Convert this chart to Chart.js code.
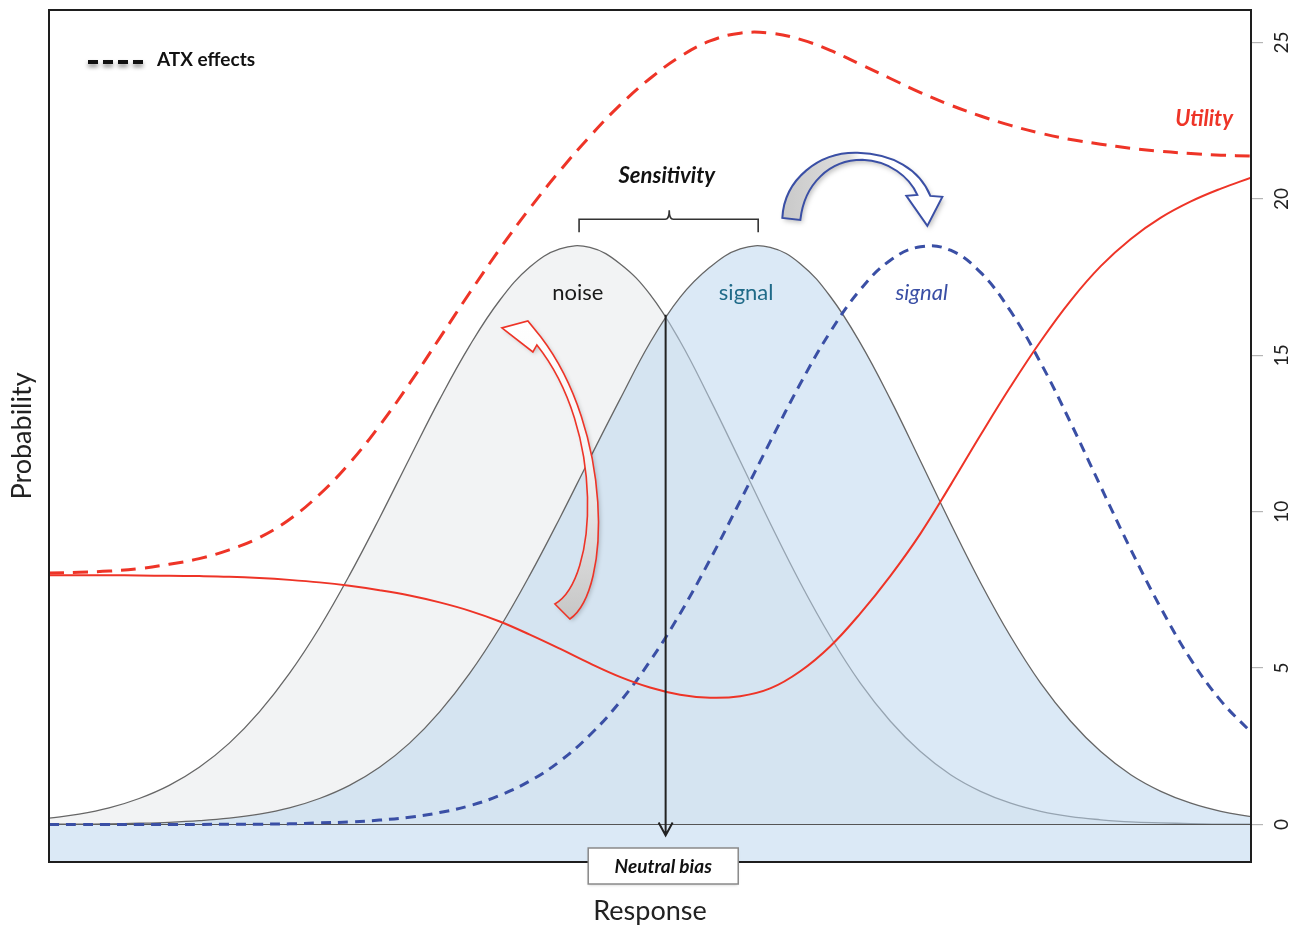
<!DOCTYPE html>
<html>
<head>
<meta charset="utf-8">
<title>Signal detection: noise, signal and utility</title>
<script src="https://cdn.jsdelivr.net/npm/chart.js@4.4.1/dist/chart.umd.min.js"></script>
<style>
  html, body { margin: 0; padding: 0; background: #fff; }
  canvas { display: block; }
</style>
</head>
<body>
<canvas id="sdtChart" width="1301" height="927"></canvas>
<script>
// response axis (arbitrary units, no tick labels)
const response = [0, 2.5, 5, 7.5, 10, 12.5, 15, 17.5, 20, 22.5, 25, 27.5, 30, 32.5, 35, 37.5, 40,
  42.5, 45, 47.5, 50, 52.5, 55, 57.5, 60, 62.5, 65, 67.5, 70, 72.5, 75, 77.5, 80, 82.5, 85, 87.5,
  90, 92.5, 95, 97.5, 100];

const noise = [0.20, 0.33, 0.53, 0.83, 1.25, 1.83, 2.60, 3.60, 4.83, 6.29, 7.97, 9.80, 11.71, 13.59,
  15.31, 16.76, 17.82, 18.40, 18.45, 17.93, 16.95, 15.45, 13.59, 11.62, 9.63, 7.73, 6.01, 4.52, 3.30,
  2.33, 1.59, 1.06, 0.68, 0.42, 0.25, 0.15, 0.08, 0.05, 0.03, 0.01, 0.01];

const signal = [0.01, 0.01, 0.02, 0.04, 0.07, 0.12, 0.20, 0.33, 0.53, 0.83, 1.25, 1.83, 2.60, 3.60,
  4.83, 6.29, 7.97, 9.80, 11.71, 13.59, 15.40, 16.85, 17.82, 18.40, 18.45, 17.93, 16.88, 15.39, 13.59,
  11.62, 9.63, 7.73, 6.01, 4.52, 3.30, 2.33, 1.59, 1.06, 0.68, 0.42, 0.25];

// signal distribution under ATX
const atxSignal = [0, 0, 0, 0, 0, 0, 0.01, 0.01, 0.02, 0.05, 0.08, 0.14, 0.23, 0.38, 0.60, 0.93, 1.39,
  2.02, 2.86, 3.92, 5.22, 6.74, 8.47, 10.34, 12.24, 14.09, 15.75, 17.10, 18.04, 18.47, 18.36, 17.65,
  16.41, 14.76, 12.84, 10.80, 8.79, 6.92, 5.27, 3.95, 2.95];

const utility = [7.97, 7.97, 7.97, 7.96, 7.95, 7.94, 7.92, 7.88, 7.82, 7.74, 7.63, 7.49, 7.32, 7.10,
  6.83, 6.49, 6.07, 5.62, 5.15, 4.72, 4.38, 4.15, 4.05, 4.10, 4.35, 4.90, 5.70, 6.75, 7.95, 9.30,
  10.85, 12.45, 14.00, 15.45, 16.75, 17.85, 18.72, 19.40, 19.92, 20.33, 20.68];

const atxUtility = [8.04, 8.06, 8.10, 8.18, 8.32, 8.50, 8.78, 9.17, 9.75, 10.55, 11.55, 12.75, 14.10,
  15.55, 17.00, 18.40, 19.70, 20.90, 22.00, 23.00, 23.85, 24.55, 25.05, 25.30, 25.30, 25.10, 24.75,
  24.30, 23.85, 23.40, 23.00, 22.65, 22.35, 22.10, 21.90, 21.75, 21.62, 21.52, 21.45, 21.40, 21.37];

const yTicks = [0, 5, 10, 15, 20, 25];

const FONT = 'Lato, "DejaVu Sans", sans-serif';
const RED = '#ee3427';
const BLUE = '#3a4fa5';

function pts(values) {
  return response.map((x, i) => ({ x: x, y: values[i] }));
}

// zero line: drawn after the noise fill so the signal fill tints it
const zeroLine = {
  id: 'zeroLine',
  beforeDatasetDraw(chart, args) {
    if (args.index !== 1) return;
    const ctx = chart.ctx;
    const area = chart.chartArea;
    const y0 = Math.round(chart.scales.y.getPixelForValue(0)) + 0.5;
    ctx.save();
    ctx.strokeStyle = '#555';
    ctx.lineWidth = 1.2;
    ctx.beginPath();
    ctx.moveTo(area.left, y0);
    ctx.lineTo(area.right, y0);
    ctx.stroke();
    ctx.restore();
  }
};

// frame, labels, bracket, arrows, legend and bias box
const decorations = {
  id: 'decorations',
  afterDraw(chart) {
    const ctx = chart.ctx;
    const area = chart.chartArea;
    const X = v => chart.scales.x.getPixelForValue(v);
    const Y = v => chart.scales.y.getPixelForValue(v);

    ctx.save();

    // plot frame
    ctx.strokeStyle = '#1e1e1e';
    ctx.lineWidth = 2;
    ctx.strokeRect(area.left, area.top, area.right - area.left, area.bottom - area.top);

    // curve labels
    ctx.textAlign = 'center';
    ctx.textBaseline = 'middle';
    ctx.font = '22px ' + FONT;
    ctx.fillStyle = '#1a1a1a';
    ctx.fillText('noise', X(44.0), Y(17.0));
    ctx.fillStyle = '#1f6a88';
    ctx.fillText('signal', X(58.0), Y(17.0));
    ctx.font = 'italic 22px ' + FONT;
    ctx.fillStyle = BLUE;
    ctx.fillText('signal', X(72.6), Y(17.0));

    ctx.font = 'italic bold 22px ' + FONT;
    ctx.fillStyle = '#111';
    ctx.fillText('Sensitivity', X(51.4), Y(20.75));

    ctx.textAlign = 'right';
    ctx.fillStyle = RED;
    ctx.fillText('Utility', X(98.5), Y(22.55));

    // bracket between the two peaks
    const bl = X(44.1), br = X(59.0), by = Y(19.35), bm = X(51.6);
    ctx.strokeStyle = '#333';
    ctx.lineWidth = 1.6;
    ctx.beginPath();
    ctx.moveTo(bl, by + 13);
    ctx.lineTo(bl, by);
    ctx.lineTo(bm - 4, by);
    ctx.quadraticCurveTo(bm, by, bm, by - 9);
    ctx.quadraticCurveTo(bm, by, bm + 4, by);
    ctx.lineTo(br, by);
    ctx.lineTo(br, by + 13);
    ctx.stroke();

    // criterion arrow from the crossing point down to the axis
    const ax = X(51.3), ay0 = Y(16.3), ay1 = Y(-0.35);
    ctx.strokeStyle = '#222';
    ctx.lineWidth = 2;
    ctx.beginPath();
    ctx.moveTo(ax, ay0);
    ctx.lineTo(ax, ay1);
    ctx.moveTo(ax - 7, ay1 - 13);
    ctx.lineTo(ax, ay1);
    ctx.lineTo(ax + 7, ay1 - 13);
    ctx.stroke();

    // curved blue arrow: signal shifting right
    ctx.save();
    ctx.translate(X(67.0), Y(21.6));
    ctx.beginPath();
    ctx.moveTo(-72, 69);
    ctx.bezierCurveTo(-70, 30, -35, 3, 3, 4);
    ctx.bezierCurveTo(38, 5, 65, 20, 76, 47);
    ctx.lineTo(88, 48);
    ctx.lineTo(73, 77);
    ctx.lineTo(52, 47);
    ctx.lineTo(63, 46);
    ctx.bezierCurveTo(55, 28, 35, 12, 8, 11);
    ctx.bezierCurveTo(-25, 11, -50, 35, -54, 71);
    ctx.closePath();
    let g = ctx.createLinearGradient(-72, 0, 86, 0);
    g.addColorStop(0, '#c9c9c9');
    g.addColorStop(0.42, '#dedede');
    g.addColorStop(0.5, '#ffffff');
    g.addColorStop(1, '#ffffff');
    ctx.shadowColor = 'rgba(0,0,0,0.25)';
    ctx.shadowBlur = 5;
    ctx.shadowOffsetX = 2;
    ctx.shadowOffsetY = 3;
    ctx.fillStyle = g;
    ctx.fill();
    ctx.shadowColor = 'transparent';
    ctx.strokeStyle = BLUE;
    ctx.lineWidth = 2;
    ctx.stroke();
    ctx.restore();

    // curved red arrow: criterion moving toward noise
    ctx.save();
    ctx.translate(X(44.5), Y(9.0));
    ctx.beginPath();
    ctx.moveTo(-29, 61);
    ctx.bezierCurveTo(14, 37, 21, -113, -47, -198);
    ctx.lineTo(-51, -191);
    ctx.lineTo(-82, -215);
    ctx.lineTo(-56, -222);
    ctx.lineTo(-43, -206);
    ctx.bezierCurveTo(28, -113, 28, 47, -14, 76);
    ctx.closePath();
    g = ctx.createLinearGradient(0, -220, 0, 76);
    g.addColorStop(0, '#ffffff');
    g.addColorStop(0.45, '#f4f4f4');
    g.addColorStop(1, '#c6c6c6');
    ctx.shadowColor = 'rgba(0,0,0,0.2)';
    ctx.shadowBlur = 4;
    ctx.shadowOffsetX = 2;
    ctx.shadowOffsetY = 2;
    ctx.fillStyle = g;
    ctx.fill();
    ctx.shadowColor = 'transparent';
    ctx.strokeStyle = RED;
    ctx.lineWidth = 1.6;
    ctx.stroke();
    ctx.restore();

    // legend for the dashed curves
    const lx = area.left + 39, ly = area.top + 52;
    ctx.save();
    ctx.shadowColor = 'rgba(0,0,0,0.45)';
    ctx.shadowBlur = 4;
    ctx.shadowOffsetY = 3;
    ctx.strokeStyle = '#111';
    ctx.lineWidth = 4;
    ctx.setLineDash([10, 5]);
    ctx.beginPath();
    ctx.moveTo(lx, ly);
    ctx.lineTo(lx + 55, ly);
    ctx.stroke();
    ctx.restore();
    ctx.font = 'bold 19px ' + FONT;
    ctx.fillStyle = '#111';
    ctx.textAlign = 'left';
    ctx.fillText('ATX effects', lx + 69, ly - 2);

    // neutral bias box over the bottom edge
    const nx = X(51.1), ny = area.bottom + 4;
    ctx.save();
    ctx.shadowColor = 'rgba(0,0,0,0.2)';
    ctx.shadowBlur = 3;
    ctx.shadowOffsetY = 1;
    ctx.fillStyle = '#fff';
    ctx.fillRect(nx - 75, ny - 18, 150, 36);
    ctx.restore();
    ctx.strokeStyle = '#8a8a8a';
    ctx.lineWidth = 1.5;
    ctx.strokeRect(nx - 75, ny - 18, 150, 36);
    ctx.font = 'italic bold 19px ' + FONT;
    ctx.fillStyle = '#111';
    ctx.textAlign = 'center';
    ctx.fillText('Neutral bias', nx, ny + 1);

    ctx.restore();
  }
};

new Chart(document.getElementById('sdtChart'), {
  type: 'line',
  data: {
    datasets: [
      {
        label: 'noise',
        data: pts(noise),
        borderColor: '#666',
        borderWidth: 1.3,
        backgroundColor: '#f2f3f4',
        fill: 'origin',
        order: 5
      },
      {
        label: 'signal',
        data: pts(signal),
        borderColor: '#666',
        borderWidth: 1.3,
        backgroundColor: 'rgba(190,215,238,0.55)',
        fill: 'start',
        order: 4
      },
      {
        label: 'signal (ATX)',
        data: pts(atxSignal),
        borderColor: BLUE,
        borderWidth: 3,
        borderDash: [10, 7],
        fill: false,
        order: 3
      },
      {
        label: 'Utility',
        data: pts(utility),
        borderColor: RED,
        borderWidth: 2,
        fill: false,
        order: 2
      },
      {
        label: 'Utility (ATX)',
        data: pts(atxUtility),
        borderColor: RED,
        borderWidth: 3,
        borderDash: [15, 9],
        fill: false,
        order: 1
      }
    ]
  },
  options: {
    responsive: false,
    animation: false,
    layout: { padding: { top: 10, left: 0, right: 0, bottom: 0 } },
    elements: {
      point: { radius: 0, hoverRadius: 0 },
      line: { tension: 0.4 }
    },
    plugins: {
      legend: { display: false },
      tooltip: { enabled: false }
    },
    scales: {
      x: {
        type: 'linear',
        min: 0,
        max: 100,
        position: 'bottom',
        ticks: { display: false },
        grid: { display: false },
        border: { display: false },
        title: {
          display: true,
          text: 'Response',
          color: '#222',
          font: { family: FONT, size: 27 },
          padding: { top: 0, bottom: 0 }
        },
        afterFit: s => { s.height = 65; s.paddingLeft = 0; s.paddingRight = 0; }
      },
      y: {
        position: 'right',
        min: -1.2,
        max: 26.04,
        afterBuildTicks: s => { s.ticks = yTicks.map(v => ({ value: v })); },
        ticks: {
          minRotation: 90,
          maxRotation: 90,
          crossAlign: 'center',
          padding: 8,
          color: '#222',
          font: { family: FONT, size: 19 }
        },
        grid: {
          drawOnChartArea: false,
          tickColor: '#b5b5b5',
          tickLength: 12,
          lineWidth: 1.2
        },
        border: { display: false },
        afterFit: s => { s.width = 50; s.paddingTop = 0; s.paddingBottom = 0; }
      },
      yl: {
        position: 'left',
        display: true,
        ticks: { display: false },
        grid: { display: false },
        border: { display: false },
        title: {
          display: true,
          text: 'Probability',
          color: '#222',
          font: { family: FONT, size: 27 },
          padding: { top: 6, bottom: 0 }
        },
        afterFit: s => { s.width = 49; s.paddingTop = 0; s.paddingBottom = 0; }
      }
    }
  },
  plugins: [zeroLine, decorations]
});
</script>
</body>
</html>
